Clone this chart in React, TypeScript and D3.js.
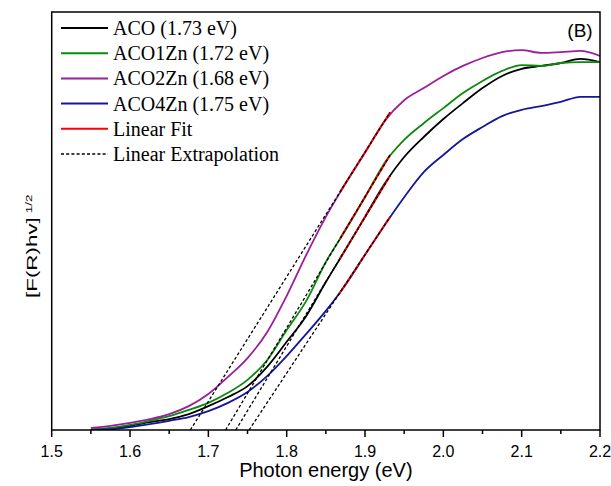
import React from "react";
import * as d3 from "d3";

const energies = [1.55, 1.575, 1.6, 1.625, 1.65, 1.675, 1.7, 1.725, 1.75, 1.775, 1.8, 1.825, 1.85, 1.875, 1.9, 1.925, 1.95, 1.975, 2.0, 2.025, 2.05, 2.075, 2.1, 2.125, 2.15, 2.175, 2.2];

const acoValues = [0.0, 0.02, 0.1, 0.19, 0.26, 0.38, 0.57, 0.79, 1.05, 1.51, 2.11, 2.73, 3.54, 4.31, 5.1, 5.89, 6.53, 7.01, 7.44, 7.82, 8.18, 8.47, 8.64, 8.71, 8.78, 8.88, 8.8];
const aco1ZnValues = [0.02, 0.05, 0.12, 0.22, 0.33, 0.48, 0.65, 0.89, 1.2, 1.67, 2.39, 3.09, 4.02, 4.78, 5.57, 6.39, 6.94, 7.34, 7.7, 8.06, 8.35, 8.59, 8.73, 8.71, 8.78, 8.8, 8.8];
const aco2ZnValues = [0.05, 0.1, 0.17, 0.26, 0.38, 0.57, 0.86, 1.27, 1.72, 2.34, 3.21, 4.19, 5.1, 5.89, 6.63, 7.39, 7.89, 8.18, 8.47, 8.71, 8.9, 9.04, 9.09, 9.02, 9.04, 9.07, 8.95];
const aco4ZnValues = [0.0, 0.02, 0.07, 0.14, 0.22, 0.31, 0.45, 0.65, 0.91, 1.29, 1.77, 2.3, 2.85, 3.47, 4.19, 4.9, 5.57, 6.17, 6.58, 6.96, 7.25, 7.51, 7.66, 7.75, 7.85, 7.97, 7.97];

const seriesNames = ["ACO (1.73 eV)", "ACO1Zn (1.72 eV)", "ACO2Zn (1.68 eV)", "ACO4Zn (1.75 eV)"];
const seriesColors = ["#000000", "#0b8a0b", "#9b1f9b", "#16169b"];

// linear fit: x-intercept (band gap), fit start energy, fit end energy, fit end value
const fitIntercepts = [1.735, 1.722, 1.677, 1.752];
const fitStarts = [1.868, 1.868, 1.868, 1.866];
const fitEnds = [1.932, 1.932, 1.932, 1.932];
const fitEndValues = [6.08, 6.58, 7.6, 5.1];

const xTicks = [1.5, 1.6, 1.7, 1.8, 1.9, 2.0, 2.1, 2.2];
const xTickLabels = ["1.5", "1.6", "1.7", "1.8", "1.9", "2.0", "2.1", "2.2"];
const xMinorTicks = [1.55, 1.65, 1.75, 1.85, 1.95, 2.05, 2.15];

export default function App() {
  const W = 611, H = 486;
  const left = 51.7, right = 600, top = 12, bottom = 430;
  const x = d3.scaleLinear().domain([1.5, 2.2]).range([left, right]);
  const y = d3.scaleLinear().domain([0, 10]).range([bottom, top]);
  const allValues = [acoValues, aco1ZnValues, aco2ZnValues, aco4ZnValues];
  const line = d3.line<[number, number]>().x(d => x(d[0])).y(d => y(d[1])).curve(d3.curveMonotoneX);

  const fitLine = (i: number, from: number, to: number): [number, number][] => {
    const e0 = fitIntercepts[i];
    const slope = fitEndValues[i] / (fitEnds[i] - e0);
    return [[from, slope * (from - e0)], [to, slope * (to - e0)]];
  };
  const straight = d3.line<[number, number]>().x(d => x(d[0])).y(d => y(d[1]));

  const legendX0 = 61, legendX1 = 108, legendY0 = 28, legendStep = 25.2;
  const legendItems = [
    ...seriesNames.map((n, i) => ({ name: n, color: seriesColors[i], dash: undefined as string | undefined })),
    { name: "Linear Fit", color: "#ff0000", dash: undefined },
    { name: "Linear Extrapolation", color: "#000000", dash: "3,2.2" },
  ];

  return (
    <svg width={W} height={H} style={{ position: "absolute", left: 0, top: 0, background: "#fff" }}>
      <defs>
        <clipPath id="plot">
          <rect x={left} y={top} width={right - left} height={bottom - top} />
        </clipPath>
      </defs>
      <g clipPath="url(#plot)">
        {allValues.map((vals, i) => (
          <path key={i} d={line(energies.map((e, j) => [e, vals[j]]) as [number, number][]) || ""}
            fill="none" stroke={seriesColors[i]} strokeWidth={1.8} />
        ))}
        {fitIntercepts.map((_, i) => (
          <path key={"f" + i} d={straight(fitLine(i, fitStarts[i], fitEnds[i])) || ""} fill="none" stroke="#ff0000" strokeWidth={1.8} />
        ))}
        {fitIntercepts.map((e0, i) => (
          <path key={"e" + i} d={straight(fitLine(i, e0, fitEnds[i])) || ""} fill="none" stroke="#000" strokeWidth={1.3} strokeDasharray="3,2.2" />
        ))}
      </g>
      <rect x={left} y={top} width={right - left} height={bottom - top} fill="none" stroke="#000" strokeWidth={1.5} />
      {xTicks.map((t, i) => (
        <g key={"t" + i}>
          <line x1={x(t)} x2={x(t)} y1={bottom} y2={bottom + 7} stroke="#000" strokeWidth={1.5} />
          <text x={x(t)} y={457} textAnchor="middle" fontFamily="Liberation Sans, Arial, sans-serif" fontSize={16} fill="#000">{xTickLabels[i]}</text>
        </g>
      ))}
      {xMinorTicks.map((t, i) => (
        <line key={"m" + i} x1={x(t)} x2={x(t)} y1={bottom} y2={bottom + 4} stroke="#000" strokeWidth={1.5} />
      ))}
      <text x={(left + right) / 2} y={477} textAnchor="middle" fontFamily="Liberation Sans, Arial, sans-serif" fontSize={20} fill="#000">Photon energy (eV)</text>
      <g transform="translate(37,298) rotate(-90) scale(1.6,1)">
        <text x={0} y={0} fontFamily="Liberation Sans, Arial, sans-serif" fontSize={14} fill="#000">[F(R)hv]</text>
        <text x={53} y={-5} fontFamily="Liberation Sans, Arial, sans-serif" fontSize={8.5} fill="#000">1/2</text>
      </g>
      <text x={580} y={37} textAnchor="middle" fontFamily="Liberation Sans, Arial, sans-serif" fontSize={19} fill="#000">(B)</text>
      {legendItems.map((it, i) => {
        const ly = legendY0 + i * legendStep;
        return (
          <g key={"l" + i}>
            <line x1={legendX0} x2={legendX1} y1={ly} y2={ly} stroke={it.color} strokeWidth={it.dash ? 1.3 : 2} strokeDasharray={it.dash} />
            <text x={113} y={ly + 7} fontFamily="Liberation Serif, Times New Roman, serif" fontSize={20} fill="#000">{it.name}</text>
          </g>
        );
      })}
    </svg>
  );
}
